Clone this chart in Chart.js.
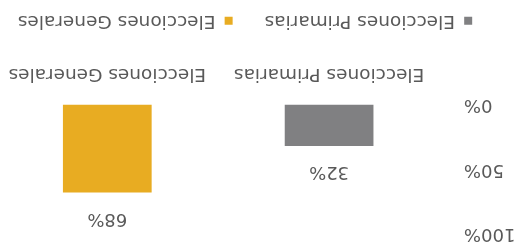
<!DOCTYPE html>
<html>
<head>
<meta charset="utf-8">
<script src="https://cdn.jsdelivr.net/npm/chart.js@4.4.1/dist/chart.umd.min.js"></script>
<style>
  html, body { margin: 0; padding: 0; background: #fff; overflow: hidden; }
  body { width: 518px; height: 247px; position: relative; }
  /* the reference is photographed upside down */
  #wrap { position: absolute; left: -12px; top: 0; width: 530px; height: 247px; transform: rotate(180deg); }
</style>
</head>
<body>
<div id="wrap"><canvas id="chart" width="530" height="247"></canvas></div>
<script>
const categories = ['Elecciones Primarias', 'Elecciones Generales'];
const seriesNames = ['Elecciones Primarias', 'Elecciones Generales'];
const primarias = [32, null];
const generales = [null, 68];
const yTicks = [0, 50, 100];

const textColor = '#595959';
const fontFamily = '"DejaVu Sans", sans-serif';
const fontSize = 18;
const labelSize = 18.5;

// value labels above each bar
const valueLabels = {
  id: 'valueLabels',
  afterDatasetsDraw(chart) {
    const ctx = chart.ctx;
    ctx.save();
    ctx.fillStyle = textColor;
    ctx.font = fontSize + 'px ' + fontFamily;
    ctx.textAlign = 'center';
    ctx.textBaseline = 'middle';
    chart.data.datasets.forEach((ds, i) => {
      chart.getDatasetMeta(i).data.forEach((bar, j) => {
        const v = ds.data[j];
        if (v == null) return;
        ctx.fillText(v + '%', bar.x, bar.y - 26);
      });
    });
    ctx.restore();
  }
};

// legend sits a bit off centre in the reference
const legendShift = {
  id: 'legendShift',
  afterLayout(chart) {
    if (chart.legend) {
      chart.legend.left += 9;
      chart.legend.right += 9;
    }
  }
};

new Chart(document.getElementById('chart'), {
  type: 'bar',
  data: {
    labels: categories,
    datasets: [{
      label: seriesNames[0],
      data: primarias,
      backgroundColor: '#808082',
      grouped: false,
      barPercentage: 0.4,
      categoryPercentage: 1
    }, {
      label: seriesNames[1],
      data: generales,
      backgroundColor: '#e8ac22',
      grouped: false,
      barPercentage: 0.4,
      categoryPercentage: 1
    }]
  },
  options: {
    responsive: false,
    animation: false,
    devicePixelRatio: 1,
    layout: { padding: { top: 13, right: 2, bottom: 1.5, left: 0 } },
    plugins: {
      tooltip: { enabled: false },
      legend: {
        position: 'bottom',
        labels: {
          color: textColor,
          boxWidth: 8,
          boxHeight: 8,
          padding: 32,
          font: { family: fontFamily, size: labelSize }
        }
      }
    },
    scales: {
      x: {
        grid: { display: false, drawTicks: false },
        border: { display: false },
        ticks: { color: textColor, padding: 20, font: { family: fontFamily, size: labelSize } },
        afterFit: s => { s.height = 42.5; }
      },
      y: {
        min: 0,
        max: 100,
        afterBuildTicks: s => { s.ticks = yTicks.map(v => ({ value: v })); },
        grid: { display: false, drawTicks: false },
        border: { display: false },
        ticks: { color: textColor, padding: 24, font: { family: fontFamily, size: fontSize }, callback: v => v + '%' },
        afterFit: s => { s.width = 78; s.paddingTop = 0; s.paddingBottom = 0; }
      }
    }
  },
  plugins: [valueLabels, legendShift]
});
</script>
</body>
</html>
